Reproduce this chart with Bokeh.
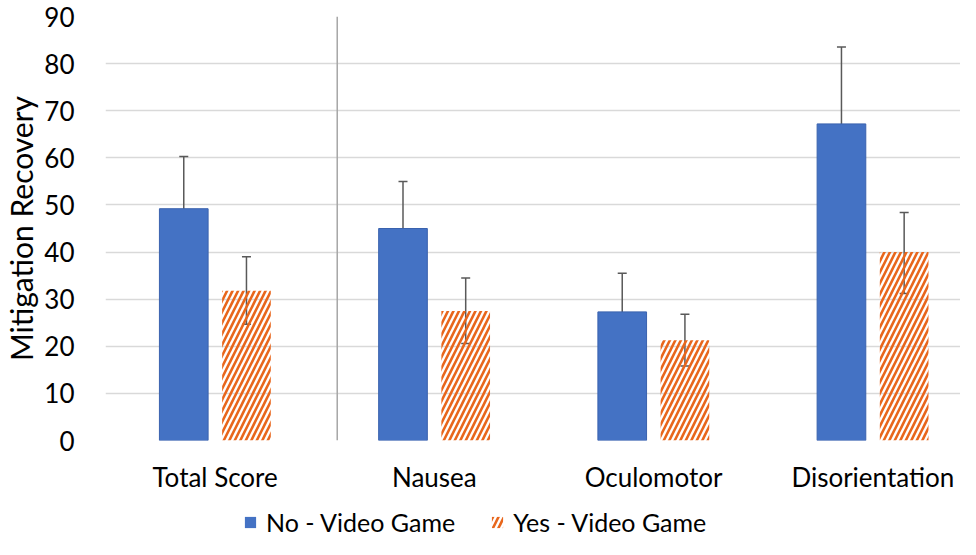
from bokeh.plotting import figure
from bokeh.layouts import column
from bokeh.models import ColumnDataSource, Whisker, TeeHead, FixedTicker, Span, Legend, LegendItem
from bokeh.embed import file_html
from bokeh.resources import INLINE
import numpy as np

categories = ["Total Score", "Nausea", "Oculomotor", "Disorientation"]
no_vg = [49.2, 45.0, 27.3, 67.2]
no_vg_upper = [60.3, 55.0, 35.5, 83.5]
no_vg_lower = [38.8, 35.5, 19.6, 51.6]
yes_vg = [31.8, 27.5, 21.3, 40.0]
yes_vg_upper = [39.0, 34.5, 26.8, 48.4]
yes_vg_lower = [24.7, 20.6, 15.8, 31.2]
y_ticks = [0, 10, 20, 30, 40, 50, 60, 70, 80, 90]
series_names = ["No - Video Game", "Yes - Video Game"]

FONT = "Lato"
BLUE = "#4472C4"
ORANGE = "#E8661C"
GRAY = "#595959"

centers = np.arange(len(categories)) + 0.5
off = 0.143
bw = 0.222

src_no = ColumnDataSource(dict(x=centers - off, top=no_vg, up=no_vg_upper, lo=no_vg_lower))
src_yes = ColumnDataSource(dict(x=centers + off, top=yes_vg, up=yes_vg_upper, lo=yes_vg_lower))

p = figure(width=960, height=500, x_range=(0, 3.9), y_range=(0, 90),
           output_backend="svg", toolbar_location=None,
           min_border_left=105, min_border_right=0, min_border_top=16, min_border_bottom=60)
p.outline_line_color = None

blue_style = dict(fill_color=BLUE, line_color="#3A62AE", line_width=1)
orange_style = dict(fill_color=None, line_color=None, hatch_pattern="right_diagonal_line",
                    hatch_color=ORANGE, hatch_scale=11, hatch_weight=2.6)

p.vbar(x="x", top="top", width=bw, source=src_no, **blue_style)
p.vbar(x="x", top="top", width=bw, source=src_yes, **orange_style)

for src in (src_no, src_yes):
    w = Whisker(base="x", upper="up", lower="lo", source=src,
                line_color=GRAY, line_width=1.5,
                upper_head=TeeHead(size=9, line_color=GRAY, line_width=1.5),
                lower_head=TeeHead(size=9, line_color=GRAY, line_width=1.5))
    p.add_layout(w)

p.add_layout(Span(location=1.057, dimension="height", line_color="#A6A6A6", line_width=1.5))

p.yaxis.ticker = FixedTicker(ticks=y_ticks)
p.ygrid.ticker = FixedTicker(ticks=y_ticks)
p.ygrid.grid_line_color = "#D9D9D9"
p.ygrid.grid_line_width = 1.5
p.xgrid.grid_line_color = None
p.yaxis.axis_line_color = None
p.yaxis.major_tick_line_color = None
p.yaxis.minor_tick_line_color = None
p.yaxis.major_label_text_font = FONT
p.yaxis.major_label_text_font_size = "26px"
p.yaxis.major_label_text_color = "#000000"
p.yaxis.major_label_standoff = 25
p.yaxis.axis_label = "Mitigation Recovery"
p.yaxis.axis_label_text_font = FONT
p.yaxis.axis_label_text_font_size = "30px"
p.yaxis.axis_label_text_font_style = "normal"
p.yaxis.axis_label_text_color = "#000000"
p.yaxis.axis_label_standoff = 2

p.xaxis.ticker = FixedTicker(ticks=list(centers))
p.xaxis.major_label_overrides = {float(c): n for c, n in zip(centers, categories)}
p.xaxis.axis_line_color = None
p.xaxis.major_tick_line_color = None
p.xaxis.minor_tick_line_color = None
p.xaxis.major_label_text_font = FONT
p.xaxis.major_label_text_font_size = "26px"
p.xaxis.major_label_text_color = "#000000"
p.xaxis.major_label_standoff = 14

# legend strip below the chart (zero-height stand-in bars carry the legend glyphs)
q = figure(width=960, height=39, x_range=(0, 1), y_range=(0, 1),
           output_backend="svg", toolbar_location=None,
           min_border_left=105, min_border_right=0, min_border_top=0, min_border_bottom=0)
q.axis.visible = False
q.grid.visible = False
q.outline_line_color = None
d_no = q.vbar(x=[0.5], top=[0], bottom=[0], width=0.1, fill_color=BLUE, line_color=None)
d_yes = q.vbar(x=[0.5], top=[0], bottom=[0], width=0.1, **orange_style)
legend = Legend(items=[LegendItem(label=series_names[0], renderers=[d_no]),
                       LegendItem(label=series_names[1], renderers=[d_yes])],
                orientation="horizontal", location=(138, 2),
                label_text_font=FONT, label_text_font_size="25px", label_text_color="#000000",
                glyph_width=14, glyph_height=14, spacing=35, label_standoff=9,
                border_line_color=None, background_fill_alpha=0, padding=0, margin=0)
q.add_layout(legend, "center")

open("out.html", "w").write(file_html(column(p, q, spacing=0), INLINE))
